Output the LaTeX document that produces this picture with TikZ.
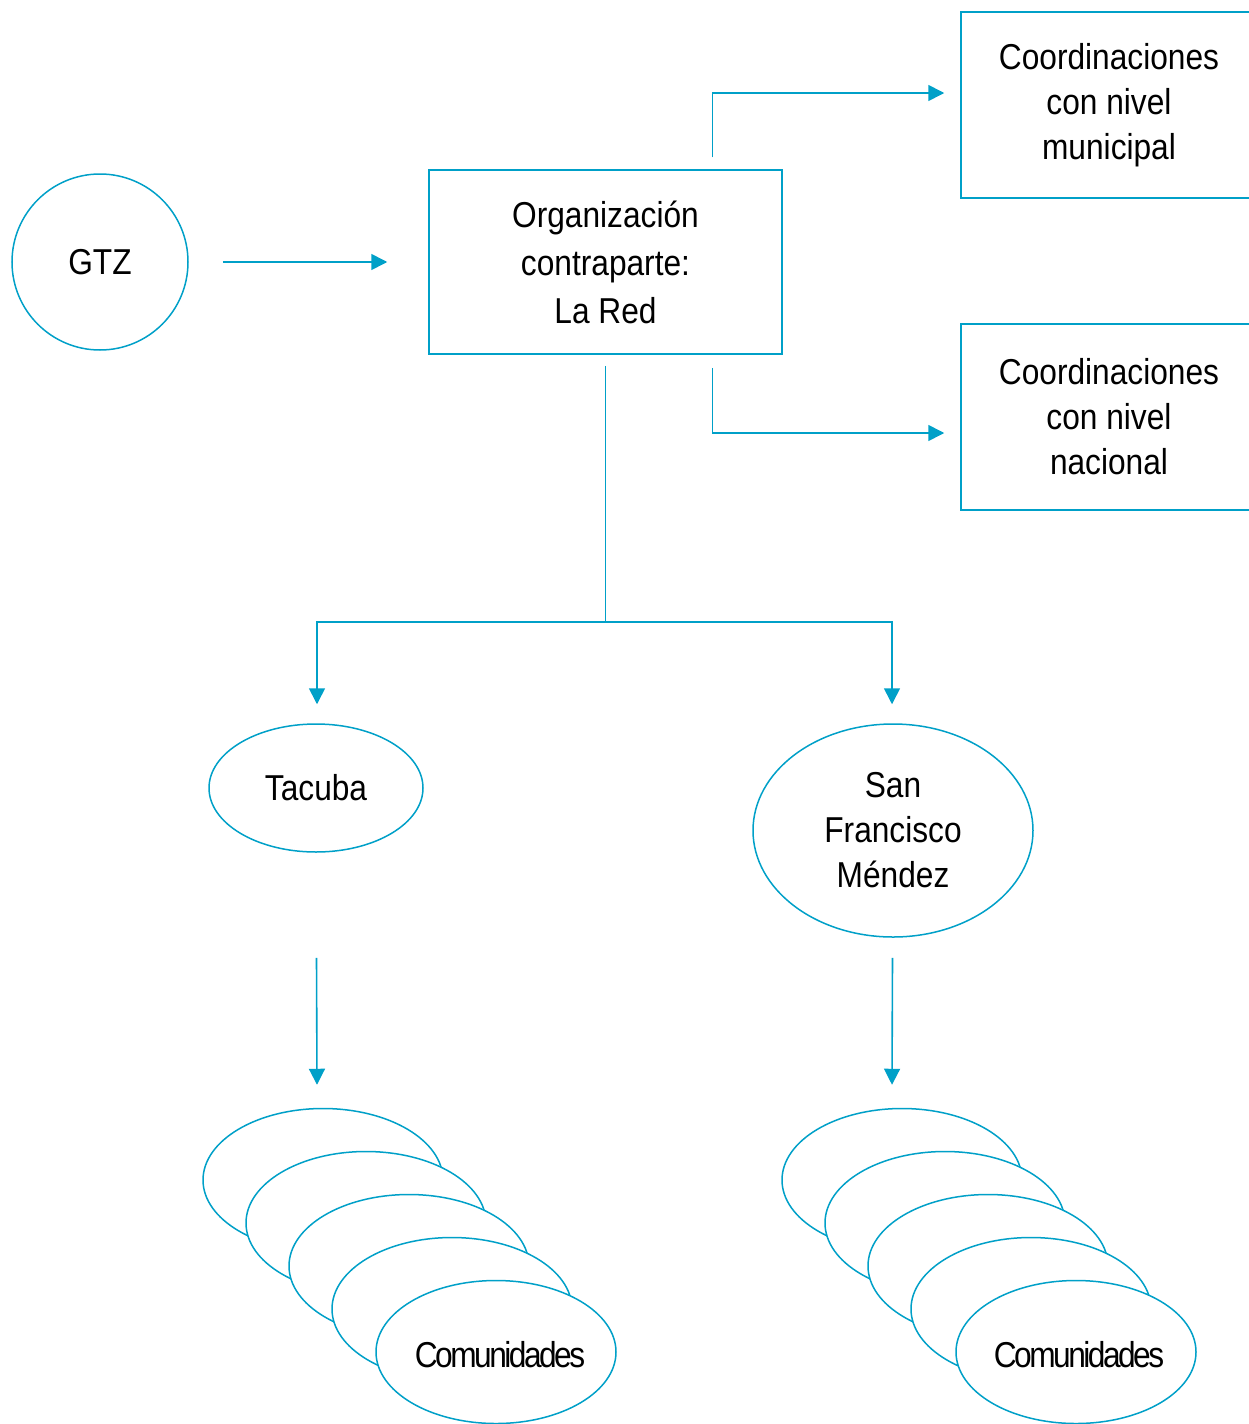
\documentclass[tikz,border=0pt]{standalone}
\usepackage{fontspec}
\setmainfont{Liberation Sans}[FakeStretch=0.88]
\usetikzlibrary{arrows.meta,calc,shapes.geometric}
\definecolor{lb}{RGB}{0,160,200}
\begin{document}
\begin{tikzpicture}[x=0.5pt,y=-0.5pt,
  every node/.style={font=\fontsize{18pt}{22.5pt}\selectfont, align=center, text=black},
  frame/.style={draw=lb, line width=0.75pt, fill=white},
  rbox/.style={frame, rectangle, inner sep=0pt},
  circ/.style={frame, circle, inner sep=0pt, minimum size=88pt},
  ell/.style={frame, ellipse, inner sep=0pt},
  comm/.style={ell, minimum width=120pt, minimum height=71.5pt},
  commtext/.style={inner sep=0pt, font=\fontsize{18pt}{22.5pt}\selectfont\addfontfeature{LetterSpace=-7}},
  line/.style={draw=lb, line width=0.8pt},
  arr/.style={line, -{Triangle[length=8pt,width=8pt]}}]
\useasboundingbox (0,0) rectangle (1248,1424);
\node[circ] (gtz) at (100,262) {GTZ};
\node[rbox, minimum width=176.5pt, minimum height=92pt, font=\fontsize{18pt}{24pt}\selectfont] (org) at (605.5,262) {Organización\\contraparte:\\La Red};
\node[rbox, minimum width=148pt, minimum height=93pt] (muni) at (1109,105) {Coordinaciones\\con nivel\\municipal};
\node[rbox, minimum width=148pt, minimum height=93pt] (naci) at (1109,417) {Coordinaciones\\con nivel\\nacional};
\node[ell, minimum width=107pt, minimum height=64pt] (tac) at (316,788) {Tacuba};
\node[ell, minimum width=140pt, minimum height=106.5pt] (sfm) at (893,830.5) {San\\Francisco\\Méndez};
% left stack
\node[comm] (l1) at (323,1180) {};
\node[comm] (l2) at (366,1223) {};
\node[comm] (l3) at (409,1266) {};
\node[comm] (l4) at (452,1309) {};
\node[comm] (l5) at (496,1352) {};
\node[commtext] (l5t) at (500,1355) {Comunidades};
% right stack
\node[comm] (r1) at (902,1180) {};
\node[comm] (r2) at (945,1223) {};
\node[comm] (r3) at (988,1266) {};
\node[comm] (r4) at (1031,1309) {};
\node[comm] (r5) at (1076,1352) {};
\node[commtext] (r5t) at (1079,1355) {Comunidades};
% connectors
\draw[arr, shorten <=17pt, shorten >=20.5pt] (gtz.east) -- (org.west);
\draw[arr] ($(org.north)+(107,-12)$) |- ([xshift=-8pt,yshift=6pt]muni.west);
\draw[arr] ($(org.south)+(107,13)$) |- ([xshift=-8pt,yshift=-8pt]naci.west);
\draw[line] ($(org.south)+(0,11)$) -- ($(org.south)+(0,267)$) coordinate (split);
\draw[arr] (split) -| ([xshift=0.5pt,yshift=9.5pt]tac.north);
\draw[arr] (split) -| ([xshift=-0.5pt,yshift=9.5pt]sfm.north);
\draw[arr] ($(tac.south)+(0.5,105)$) -- ([xshift=0.5pt,yshift=11.5pt]tac.south |- l1.north);
\draw[arr] ($(sfm.south)+(-0.5,20)$) -- ([xshift=-0.5pt,yshift=11.5pt]sfm.south |- r1.north);
\end{tikzpicture}
\end{document}
